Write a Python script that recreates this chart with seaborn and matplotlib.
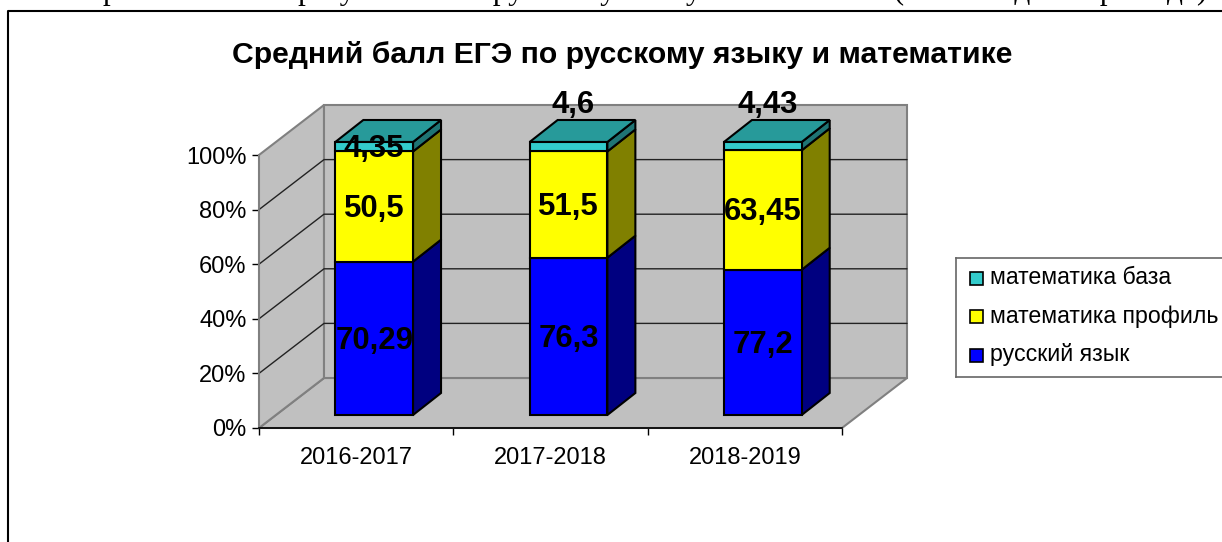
import matplotlib
matplotlib.use("Agg")
import matplotlib.pyplot as plt
from matplotlib.patches import Polygon, Rectangle
import seaborn as sns

years = ["2016-2017", "2017-2018", "2018-2019"]
russian = [70.29, 76.3, 77.2]
math_prof = [50.5, 51.5, 63.45]
math_base = [4.35, 4.6, 4.43]

series_names = ["русский язык", "математика профиль", "математика база"]
face_colors = ["#0000FF", "#FFFF00", "#33CCCC"]
side_colors = ["#000080", "#808000", "#1F7474"]
top_color = "#279A9A"

W, H = 1222, 542


def axes_px(x0, y_top, x1, y_bottom):
    return [x0 / W, 1 - y_bottom / H, (x1 - x0) / W, (y_bottom - y_top) / H]


sns.set_theme(style="white")
plt.rcParams["font.family"] = ["Liberation Sans", "DejaVu Sans"]
plt.rcParams["text.color"] = "black"

fig = plt.figure(figsize=(W / 100, H / 100), dpi=100)

# whole figure in pixels, only for the chart border and the cut off text line
bg = fig.add_axes([0, 0, 1, 1])
bg.set_xlim(0, W)
bg.set_ylim(H, 0)
bg.axis("off")
bg.plot([8, 8, W], [H, 11, 11], color="black", lw=1.5)
bg.text(645, -1, "Сравнительные результаты по русскому языку и математике (за последние три года)",
        ha="center", va="baseline", fontsize=22.5, family="Liberation Serif", color="black")
bg.text(622, 55, "Средний балл ЕГЭ по русскому языку и математике", ha="center", va="center",
        fontsize=21.7, fontweight="bold", color="black")

# front plane of the box, carries the axis
ax = fig.add_axes(axes_px(259, 155, 842, 428))
ax.set_xlim(-0.5, 2.5)
ax.set_ylim(0, 100)
ax.patch.set_alpha(0)
dx = 65 / 583 * 3
dy = 50 / 273 * 100


def back(x, y):
    return (x + dx, y + dy)


left, right = -0.5, 2.5
wall = dict(facecolor="#C0C0C0", edgecolor="#808080", lw=1.5, clip_on=False, zorder=1)
ax.add_patch(Polygon([(left, 0), (right, 0), back(right, 0), back(left, 0)], **wall))
ax.add_patch(Polygon([(left, 0), back(left, 0), back(left, 100), (left, 100)], **wall))
ax.add_patch(Polygon([back(left, 0), back(right, 0), back(right, 100), back(left, 100)], **wall))
for tick in range(20, 100, 20):
    ax.plot([left, back(left, tick)[0], back(right, tick)[0]], [tick, tick + dy, tick + dy],
            color="#222222", lw=1, clip_on=False, zorder=2)

ax.set_xticks([0, 1, 2])
ax.set_xticklabels(years, fontsize=17)
ax.set_xticks([-0.5, 0.5, 1.5, 2.5], minor=True)
ax.set_yticks(range(0, 101, 20))
ax.set_yticklabels([f"{t}%" for t in range(0, 101, 20)], fontsize=17)
ax.tick_params(axis="x", which="major", length=0, pad=14, labelcolor="black")
ax.tick_params(axis="x", which="minor", length=5, width=1, color="black", bottom=True)
ax.tick_params(axis="y", length=5, width=1, color="black", pad=4, left=True, labelcolor="black")
for name, spine in ax.spines.items():
    spine.set_visible(name in ("left", "bottom"))
    spine.set_color("black" if name == "bottom" else "#808080")
    spine.set_linewidth(1.2)
    spine.set_zorder(3)

# bars stand a little behind the front plane, so they get their own axes
bx = fig.add_axes(axes_px(277, 142, 860, 415))
bx.patch.set_alpha(0)

totals = [a + b + c for a, b, c in zip(russian, math_prof, math_base)]
bottom = [0.0, 0.0, 0.0]
bar_dx = 28 / 583 * 3
bar_dy = 22 / 273 * 100
stacks = [russian, math_prof, math_base]
for k, vals in enumerate(stacks):
    shares = [v / t * 100 for v, t in zip(vals, totals)]
    n_before = len(bx.patches)
    sns.barplot(x=years, y=shares, bottom=bottom, ax=bx, color=face_colors[k], saturation=1,
                width=0.4, edgecolor="black", linewidth=1.5, zorder=5)
    bx.set_xlim(-0.5, 2.5)
    bx.set_ylim(0, 100)
    for p in bx.patches[n_before:]:
        x0, x1 = p.get_x(), p.get_x() + p.get_width()
        y0, y1 = p.get_y(), p.get_y() + p.get_height()
        bx.add_patch(Polygon([(x1, y0), (x1 + bar_dx, y0 + bar_dy), (x1 + bar_dx, y1 + bar_dy), (x1, y1)],
                             facecolor=side_colors[k], edgecolor="black", lw=1.5, clip_on=False, zorder=4))
        if k == 2:
            bx.add_patch(Polygon([(x0, y1), (x1, y1), (x1 + bar_dx, y1 + bar_dy), (x0 + bar_dx, y1 + bar_dy)],
                                 facecolor=top_color, edgecolor="black", lw=1.5, clip_on=False, zorder=4))
    bottom = [b + s for b, s in zip(bottom, shares)]
bx.axis("off")
for p in bx.patches:
    p.set_clip_on(False)

# value labels in the middle of each segment
bottom = [0.0, 0.0, 0.0]
for vals in stacks:
    for i, (v, t) in enumerate(zip(vals, totals)):
        share = v / t * 100
        y = bottom[i] + share / 2 - 0.8
        x = i
        txt = f"{v:g}".replace(".", ",")
        # the base maths label goes above the bar except in the first year
        if vals is math_base and i > 0:
            y += 16
            x += 0.025
        bx.text(x, y, txt, ha="center", va="center", fontsize=22.4, fontweight="bold",
                color="black", zorder=10, clip_on=False)
        bottom[i] += share

# legend box
leg = fig.add_axes(axes_px(956, 258, W + 5, 377))
leg.set_xlim(956, W + 5)
leg.set_ylim(377, 258)
leg.set_xticks([])
leg.set_yticks([])
leg.set_facecolor("white")
for spine in leg.spines.values():
    spine.set_color("#666666")
    spine.set_linewidth(1.2)
for k, y in zip([2, 1, 0], [278, 316, 355]):
    leg.add_patch(Rectangle((970, y - 6), 13, 13, facecolor=face_colors[k], edgecolor="black", lw=1.2))
    leg.text(990, y, series_names[k], ha="left", va="center", fontsize=16.7, color="black")

fig.savefig("out.png", dpi=100, facecolor="white")
